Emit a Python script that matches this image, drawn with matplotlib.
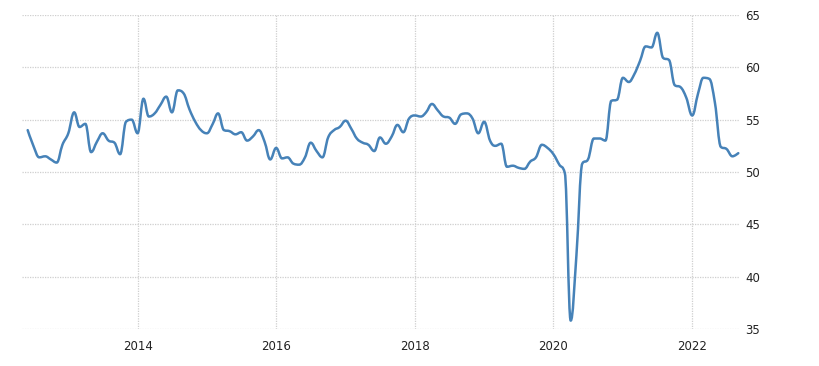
import matplotlib
matplotlib.use('Agg')
import matplotlib.pyplot as plt
import matplotlib.dates as mdates
from matplotlib.path import Path
from matplotlib.patches import PathPatch
import pandas as pd

# monthly index values, Jun 2012 .. Sep 2022
values_2012 = [54.0, 52.5, 51.4, 51.5, 51.2, 50.9, 52.6]
values_2013 = [53.7, 55.7, 54.3, 54.6, 51.9, 52.9, 53.7, 53.0, 52.8, 51.7, 54.8, 55.0]
values_2014 = [53.7, 57.0, 55.3, 55.6, 56.4, 57.2, 55.7, 57.8, 57.5, 56.0, 54.8, 54.0]
values_2015 = [53.7, 54.6, 55.6, 54.0, 53.9, 53.6, 53.8, 53.0, 53.4, 54.0, 52.9, 51.2]
values_2016 = [52.3, 51.3, 51.4, 50.8, 50.7, 51.4, 52.8, 52.0, 51.4, 53.3, 54.0, 54.3]
values_2017 = [54.9, 54.1, 53.2, 52.8, 52.6, 52.0, 53.3, 52.7, 53.4, 54.5, 53.8, 55.1]
values_2018 = [55.4, 55.3, 55.7, 56.5, 55.9, 55.3, 55.2, 54.6, 55.5, 55.6, 55.1, 53.7]
values_2019 = [54.8, 53.0, 52.5, 52.7, 50.5, 50.6, 50.4, 50.3, 51.0, 51.4, 52.6, 52.3]
values_2020 = [51.7, 50.7, 49.9, 35.8, 42.0, 50.8, 51.2, 53.2, 53.2, 53.0, 56.8, 56.9]
values_2021 = [59.0, 58.6, 59.3, 60.6, 62.0, 61.9, 63.3, 60.9, 60.7, 58.3, 58.1, 57.1]
values_2022 = [55.4, 57.5, 59.0, 58.9, 56.6, 52.4, 52.2, 51.5, 51.8]

values = (values_2012 + values_2013 + values_2014 + values_2015 + values_2016 +
          values_2017 + values_2018 + values_2019 + values_2020 + values_2021 + values_2022)
dates = pd.date_range('2012-06-01', periods=len(values), freq='MS')

y_ticks = [35, 40, 45, 50, 55, 60, 65]
x_tick_years = [2014, 2016, 2018, 2020, 2022]


def spline_path(xs, ys, smoothing=1.5):
    # smooth curve through the points, built from cubic bezier segments
    n = len(xs)
    denom = smoothing + 1
    left = [(xs[i], ys[i]) for i in range(n)]
    right = [(xs[i], ys[i]) for i in range(n)]
    for i in range(1, n - 1):
        x, y = xs[i], ys[i]
        lx, ly = xs[i - 1], ys[i - 1]
        nx, ny = xs[i + 1], ys[i + 1]
        lcx = (smoothing * x + lx) / denom
        lcy = (smoothing * y + ly) / denom
        rcx = (smoothing * x + nx) / denom
        rcy = (smoothing * y + ny) / denom
        if rcx != lcx:
            corr = ((rcy - lcy) * (rcx - x)) / (rcx - lcx) + y - rcy
            lcy += corr
            rcy += corr
        if lcy > ly and lcy > y:
            lcy = max(ly, y)
            rcy = 2 * y - lcy
        elif lcy < ly and lcy < y:
            lcy = min(ly, y)
            rcy = 2 * y - lcy
        if rcy > ny and rcy > y:
            rcy = max(ny, y)
            lcy = 2 * y - rcy
        elif rcy < ny and rcy < y:
            rcy = min(ny, y)
            lcy = 2 * y - rcy
        left[i] = (lcx, lcy)
        right[i] = (rcx, rcy)
    verts = [(xs[0], ys[0])]
    codes = [Path.MOVETO]
    for i in range(1, n):
        verts += [right[i - 1], left[i], (xs[i], ys[i])]
        codes += [Path.CURVE4] * 3
    return Path(verts, codes)


fig = plt.figure(figsize=(8.19, 3.66), dpi=100)
ax = fig.add_axes([22 / 819, 1 - 329 / 366, 718 / 819, 314 / 366])

xnum = mdates.date2num(dates)
path = spline_path(list(xnum), values)
ax.add_patch(PathPatch(path, facecolor='none', edgecolor='#4682b8', linewidth=1.8,
                       capstyle='round', joinstyle='round'))

ax.set_xlim(mdates.date2num(pd.Timestamp('2012-05-02')), mdates.date2num(pd.Timestamp('2022-09-10')))
ax.set_ylim(35, 65)

ax.set_xticks([mdates.date2num(pd.Timestamp(f'{yr}-01-01')) for yr in x_tick_years])
ax.set_xticklabels([str(yr) for yr in x_tick_years])
ax.set_yticks(y_ticks)
ax.yaxis.tick_right()

ax.grid(True, color='#cfcfcf', linestyle=(0, (1, 1)), linewidth=0.9)
ax.set_axisbelow(True)
for s in ax.spines.values():
    s.set_visible(False)

ax.tick_params(axis='x', length=0, pad=8, labelsize=8.5, labelcolor='#222222')
ax.tick_params(axis='y', length=0, pad=4, labelsize=8.5, labelcolor='#222222')

plt.savefig('out.png', dpi=100)
plt.close(fig)
